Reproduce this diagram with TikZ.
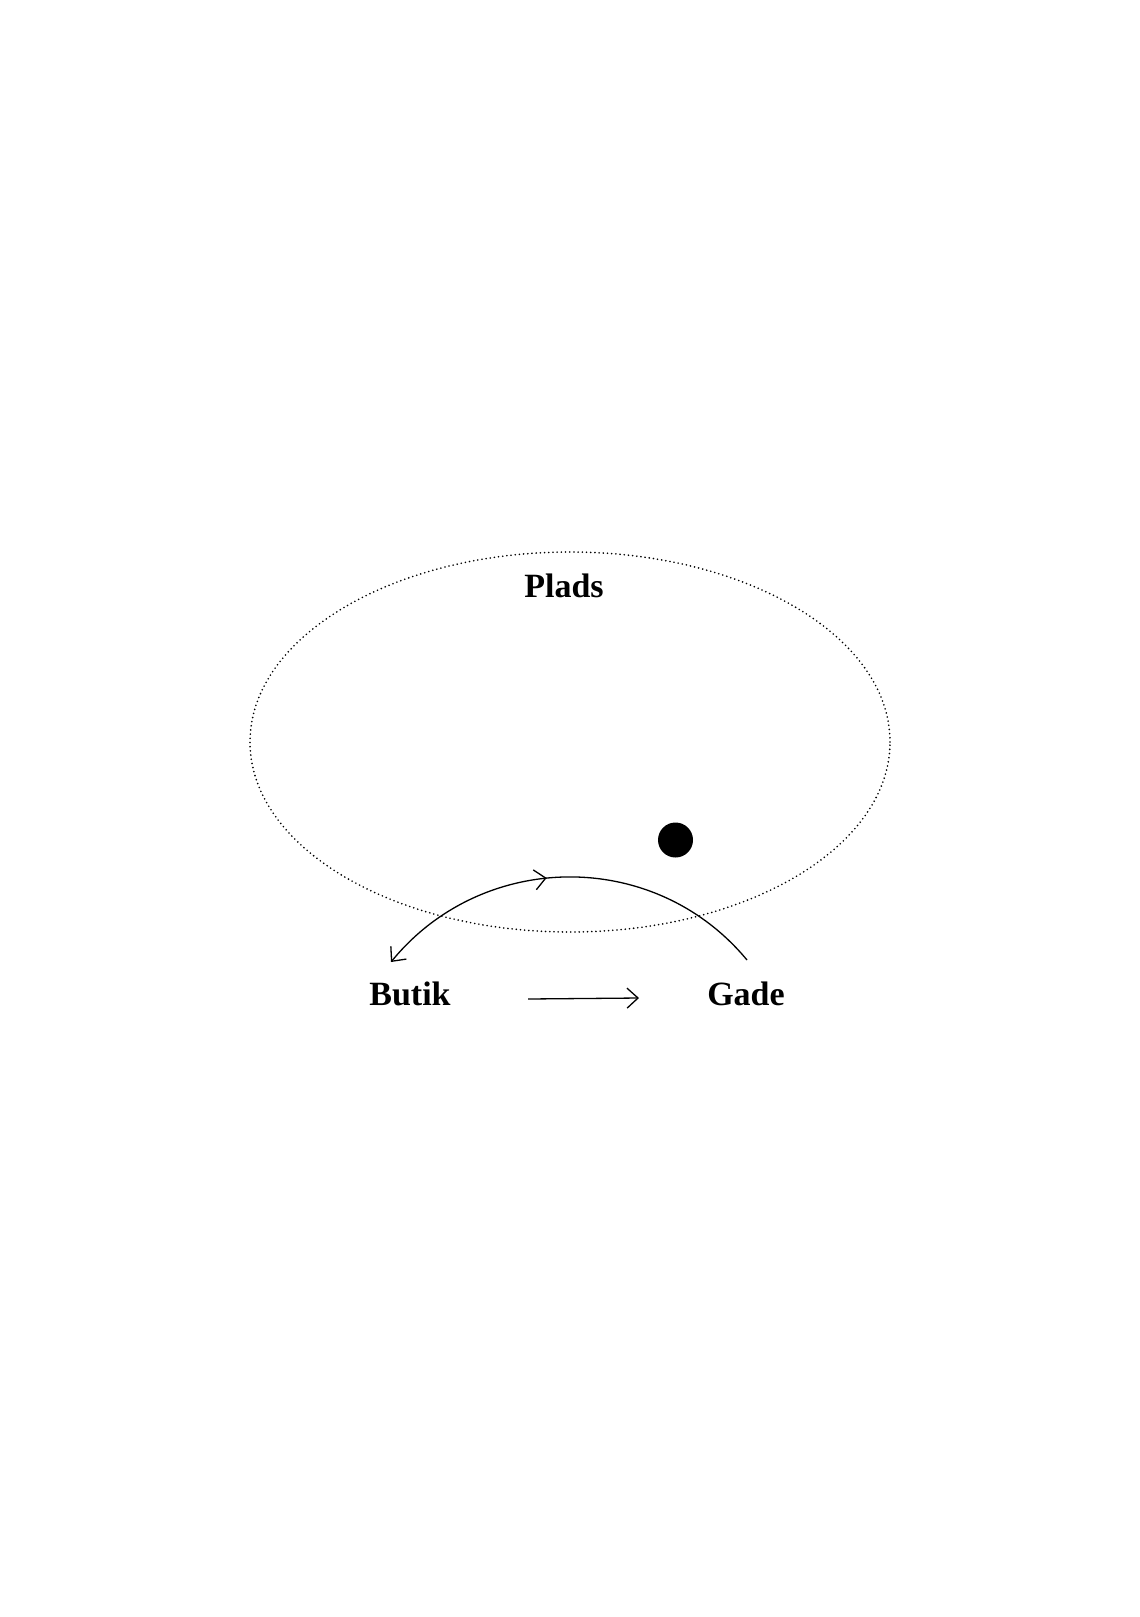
\documentclass[tikz,border=0pt]{standalone}
\usepackage{fontspec}
\setmainfont{Liberation Serif}
\usetikzlibrary{arrows.meta,shapes.geometric,decorations.markings}
\begin{document}
\begin{tikzpicture}[x=1pt,y=-1pt,
  barb/.tip={Straight Barb[length=11pt,width=20pt]},
  lbl/.style={font=\fontsize{34}{40}\selectfont\bfseries, inner sep=0pt, anchor=base},
  conn/.style={line width=1.3pt, -{barb}},
  area/.style={ellipse, draw, line width=1.8pt, line cap=round, dash pattern=on 0pt off 4.2pt, inner sep=0pt, minimum width=640pt, minimum height=380pt}]
  \useasboundingbox[fill=white] (0,0) rectangle (1140,1617);
  \node[area] (plads) at (570,742) {};
  \node[lbl] (pladslbl) at (564,597) {Plads};
  \node[circle, fill=black, inner sep=0pt, minimum size=35pt] (dot) at (675.5,840) {};
  \node[lbl] (butik) at (410,1005) {Butik};
  \node[lbl] (gade) at (746,1005) {Gade};
  \coordinate (gtop) at (747,960);
  \coordinate (btop) at (391,962);
  \coordinate (bright) at (528,999);
  \coordinate (gleft) at (639,998);
  \draw[conn, postaction={decorate, decoration={markings,
      mark=at position 0.585 with {\arrow[line width=1.3pt]{Straight Barb[length=11pt,width=20pt,reversed]}}}}]
    (gtop) .. controls (654.4,848.1) and (482.6,850.1) .. (btop);
  \draw[conn] (bright) -- (gleft);
\end{tikzpicture}
\end{document}
